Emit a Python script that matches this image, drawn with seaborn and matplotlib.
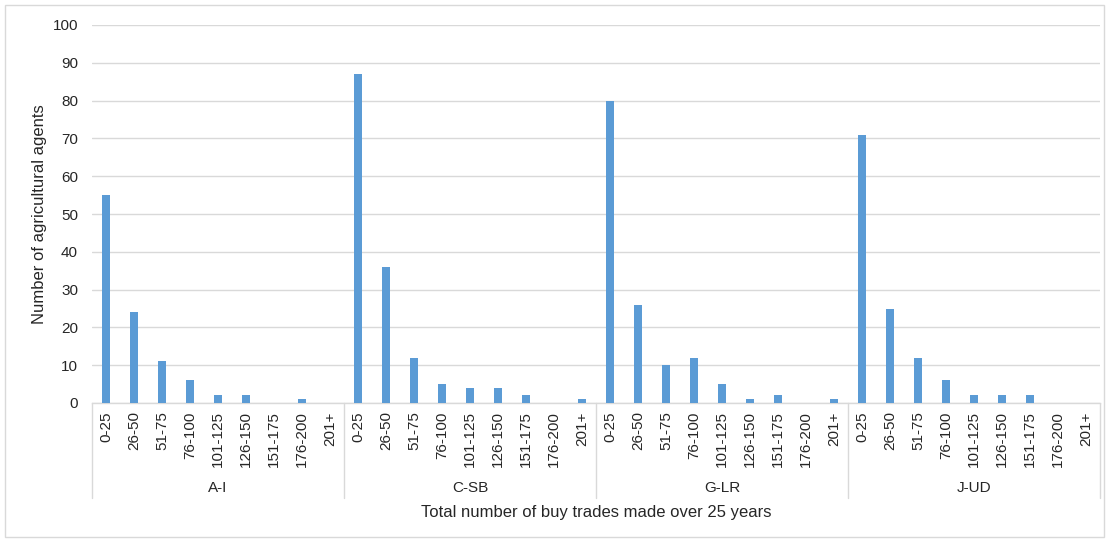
import matplotlib
matplotlib.use("Agg")
import matplotlib.pyplot as plt
from matplotlib.patches import Rectangle
from matplotlib.lines import Line2D
import seaborn as sns
import pandas as pd

# Trade-count bins and agent groups
bins = ["0-25", "26-50", "51-75", "76-100", "101-125", "126-150", "151-175", "176-200", "201+"]
groups = ["A-I", "C-SB", "G-LR", "J-UD"]

# Number of agents per bin, one list per group
a_i = [55, 24, 11, 6, 2, 2, 0, 1, 0]
c_sb = [87, 36, 12, 5, 4, 4, 2, 0, 1]
g_lr = [80, 26, 10, 12, 5, 1, 2, 0, 1]
j_ud = [71, 25, 12, 6, 2, 2, 2, 0, 0]

y_ticks = list(range(0, 101, 10))

values = {"A-I": a_i, "C-SB": c_sb, "G-LR": g_lr, "J-UD": j_ud}
rows = []
for g in groups:
    for b, v in zip(bins, values[g]):
        rows.append({"key": f"{g}|{b}", "group": g, "bin": b, "agents": v})
df = pd.DataFrame(rows)
order = list(df["key"])

sns.set_theme(style="white")
plt.rcParams["font.family"] = ["Liberation Sans", "DejaVu Sans"]

W, H = 1107, 541
fig = plt.figure(figsize=(W / 100, H / 100), dpi=100)
ax = fig.add_axes([92 / W, 1 - 403 / H, (1100 - 92) / W, (403 - 25) / H])

sns.barplot(data=df, x="key", y="agents", order=order, color="#5B9BD5",
            width=0.3, saturation=1, linewidth=0, ax=ax, zorder=3)

grid_c = "#D9D9D9"
text_c = "#262626"
ax.set_ylim(0, 100)
ax.set_yticks(y_ticks)
ax.tick_params(axis="y", length=0, labelsize=11, colors=text_c, pad=10)
ax.yaxis.grid(True, color=grid_c, linewidth=1, zorder=0)
ax.set_xlim(-0.5, len(order) - 0.5)
ax.set_xticks(range(len(order)))
ax.set_xticklabels(list(df["bin"]), rotation=90, fontsize=11, color=text_c)
ax.tick_params(axis="x", length=0, pad=6)
for s in ["top", "right", "left"]:
    ax.spines[s].set_visible(False)
ax.spines["bottom"].set_color(grid_c)
ax.spines["bottom"].set_linewidth(1)

ax.set_ylabel("Number of agricultural agents", fontsize=12, color=text_c, labelpad=4)
ax.set_xlabel("")

# Group separators and group names beneath the bin labels
trans = ax.get_xaxis_transform()
sep_bottom = -(498 - 403) / (403 - 25)
n = len(bins)
for i in range(len(groups) + 1):
    x = i * n - 0.5
    ax.add_line(Line2D([x, x], [0, sep_bottom], transform=trans, color=grid_c,
                       linewidth=1, clip_on=False))
for i, g in enumerate(groups):
    ax.text(i * n + (n - 1) / 2, -(488 - 403) / (403 - 25), g, transform=trans,
            ha="center", va="center", fontsize=11, color=text_c)

fig.text((92 + 1100) / 2 / W, 1 - 512 / H, "Total number of buy trades made over 25 years",
         ha="center", va="center", fontsize=12, color=text_c)

# Chart-area border
fig.patches.append(Rectangle((5 / W, 4 / H), (1104 - 5) / W, (536 - 4) / H,
                             transform=fig.transFigure, fill=False,
                             edgecolor=grid_c, linewidth=1))

fig.savefig("out.png", dpi=100, facecolor="white")
